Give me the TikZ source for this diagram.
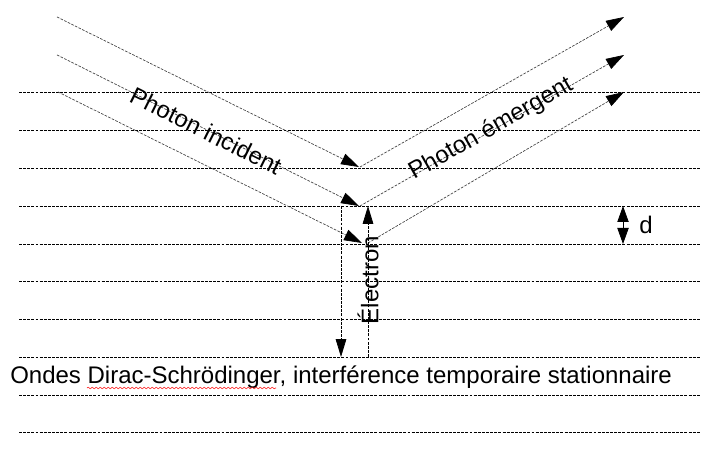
\documentclass[tikz,border=0pt]{standalone}
\usepackage{fontspec}
\setmainfont{Liberation Sans}
\usetikzlibrary{arrows.meta,decorations.pathmorphing}

\tikzset{
  level/.style={line width=0.6pt, dash pattern=on 2.2pt off 0.9pt},
  ray/.style={black!75, line width=0.5pt, dash pattern=on 2pt off 1pt,
    -{Triangle[length=13.5pt,width=8.5pt,color=black]}},
  vert/.style={line width=0.6pt, dash pattern=on 2.2pt off 0.9pt,
    -{Triangle[length=13.5pt,width=8pt]}},
  lbl/.style={font=\fontsize{18}{21}\selectfont, inner sep=0pt},
}

\begin{document}
\begin{tikzpicture}[x=0.75pt, y=-0.75pt]
  \useasboundingbox (0,0) rectangle (713,452);

  \foreach \y in {92,130,168,206,244,281,319,357,395,432}
    \draw[level] (19,\y) -- (700,\y);

  \coordinate (in1) at (57,17);
  \coordinate (in2) at (57,55);
  \coordinate (in3) at (58,92);
  \coordinate (hit1) at (359,167);
  \coordinate (hit2) at (359,206);
  \coordinate (hit3) at (362,243);
  \coordinate (out1) at (360,167);
  \coordinate (out2) at (360,206);
  \coordinate (out3) at (368,243);
  \coordinate (far1) at (624,17);
  \coordinate (far2) at (624,55);
  \coordinate (far3) at (624,92);

  \draw[ray] (in1) -- (hit1);
  \draw[ray] (in2) -- (hit2);
  \draw[ray] (in3) -- (hit3);
  \draw[ray] (out1) -- (far1);
  \draw[ray] (out2) -- (far2);
  \draw[ray] (out3) -- (far3);

  \node[lbl, rotate=-26.5] (inc) at (206,131) {Photon incident};
  \node[lbl, rotate=29.6] (emg) at (491,129) {Photon émergent};

  \coordinate (dn1) at (341,206);
  \coordinate (dn2) at (341,357);
  \coordinate (up1) at (368,357);
  \coordinate (up2) at (368,206);
  \draw[vert] (dn1) -- (dn2);
  \draw[vert] (up1) -- (up2);
  \node[lbl, rotate=90] (elec) at (368,280) {Électron};

  \coordinate (dtop) at (623,206);
  \coordinate (dbot) at (623,244);
  \draw[line width=0.6pt, {Triangle[length=12pt,width=8.5pt]}-{Triangle[length=12pt,width=8.5pt]}] (dtop) -- (dbot);
  \node[lbl, anchor=west] (d) at (639,225) {d};

  \node[lbl, anchor=base west] (title) at (10,383)
    {Ondes Dirac-Schrödinger, interférence temporaire stationnaire};
  \draw[red, line width=0.4pt, decorate,
    decoration={snake, amplitude=0.6pt, segment length=3pt}]
    (87,388) -- (276,388);
\end{tikzpicture}
\end{document}
